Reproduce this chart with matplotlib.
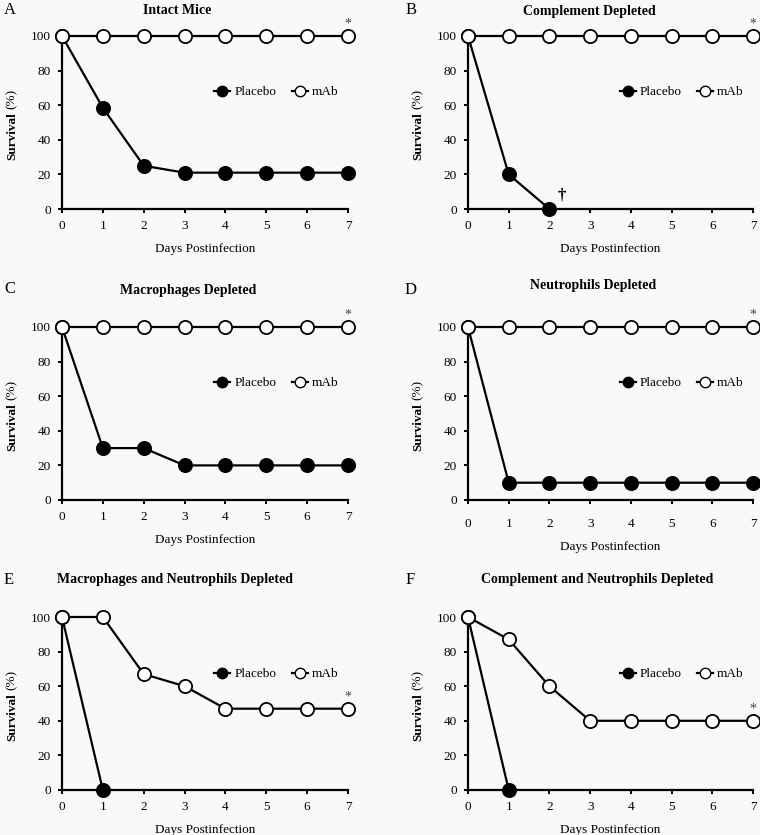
import matplotlib
matplotlib.use("Agg")
import matplotlib.pyplot as plt
from matplotlib.lines import Line2D

plt.rcParams['font.family'] = ['Liberation Serif', 'DejaVu Serif']

days = [0, 1, 2, 3, 4, 5, 6, 7]
panel_letters = ["A", "B", "C", "D", "E", "F"]
titles = ["Intact Mice", "Complement Depleted", "Macrophages Depleted",
          "Neutrophils Depleted", "Macrophages and Neutrophils Depleted",
          "Complement and Neutrophils Depleted"]

placebo_A = [100, 58.5, 25, 21, 21, 21, 21, 21]
mab_A = [100, 100, 100, 100, 100, 100, 100, 100]
placebo_B = [100, 20, 0]
mab_B = [100, 100, 100, 100, 100, 100, 100, 100]
placebo_C = [100, 30, 30, 20, 20, 20, 20, 20]
mab_C = [100, 100, 100, 100, 100, 100, 100, 100]
placebo_D = [100, 10, 10, 10, 10, 10, 10, 10]
mab_D = [100, 100, 100, 100, 100, 100, 100, 100]
placebo_E = [100, 0]
mab_E = [100, 100, 67, 60, 47, 47, 47, 47]
placebo_F = [100, 0]
mab_F = [100, 87, 60, 40, 40, 40, 40, 40]

placebos = [placebo_A, placebo_B, placebo_C, placebo_D, placebo_E, placebo_F]
mabs = [mab_A, mab_B, mab_C, mab_D, mab_E, mab_F]

W, H = 760, 835
fig = plt.figure(figsize=(W / 100, H / 100), dpi=100)
bg = '#f9f9f9'
fig.patch.set_facecolor(bg)

# axes pixel boxes: (left, right, top, bottom)
boxes = [(62, 348, 36, 209), (468, 753, 36, 209),
         (62, 348, 327, 500), (468, 753, 327, 500),
         (62, 348, 617, 790), (468, 753, 617, 790)]
title_pos = [(177, 11), (589, 11), (188, 290), (593, 286), (175, 580), (597, 580)]
letter_pos = [(4, 10), (406, 10), (4, 289), (405, 290), (4, 580), (406, 580)]
legend_y = [0.676, 0.676, 0.676, 0.676, 0.67, 0.67]
xpads = [5, 5, 5, 10, 5, 5]
xlabelpads = [8, 8, 8, 8, 8, 8]

fs = 9.5
for i in range(6):
    l, r, t, b = boxes[i]
    ax = fig.add_axes([l / W, 1 - b / H, (r - l) / W, (b - t) / H])
    ax.set_facecolor(bg)
    p = placebos[i]
    m = mabs[i]
    ax.plot(days[:len(p)], p, '-o', color='black', lw=1.6, ms=9.5,
            mfc='black', mec='black', mew=1.3, clip_on=False, zorder=3)
    ax.plot(days[:len(m)], m, '-o', color='black', lw=1.6, ms=9.5,
            mfc='white', mec='black', mew=1.3, clip_on=False, zorder=4)
    ax.set_xlim(0, 7)
    ax.set_ylim(0, 100)
    ax.set_xticks(days)
    ax.set_yticks([0, 20, 40, 60, 80, 100])
    for s in ['top', 'right']:
        ax.spines[s].set_visible(False)
    for s in ['left', 'bottom']:
        ax.spines[s].set_linewidth(1.6)
    ax.tick_params(axis='both', direction='out', length=3, width=1.4,
                   labelsize=fs, pad=5)
    ax.tick_params(axis='x', pad=xpads[i])
    ax.set_xlabel("Days Postinfection", fontsize=fs, labelpad=xlabelpads[i])

    # y label: bold "Survival" + regular "(%)"
    ylx_frac = -50 / (r - l)
    t1 = ax.text(ylx_frac, 0.283, "Survival", transform=ax.transAxes,
                 rotation=90, ha='center', va='bottom', fontsize=fs,
                 fontweight='bold')
    ax.annotate("(%)", xy=(0.5, 1.0), xycoords=t1, xytext=(0, 2.5),
                textcoords='offset points', rotation=90, ha='center',
                va='bottom', fontsize=fs)

    ax.annotate("*", xy=(7, m[-1]), xytext=(0, 4), textcoords='offset points',
                ha='center', va='bottom', fontsize=10, color='#444444')
    if i == 1:
        ax.annotate("\u2020", xy=(2, 0), xytext=(9, 4), textcoords='offset points',
                    ha='center', va='bottom', fontsize=12, fontweight='bold')

    handles = [Line2D([], [], color='black', lw=1.6, marker='o', ms=7.5,
                      mfc='black', mec='black'),
               Line2D([], [], color='black', lw=1.6, marker='o', ms=7.5,
                      mfc='white', mec='black')]
    ax.legend(handles, ["Placebo", "mAb"], loc='center',
              bbox_to_anchor=(0.75, legend_y[i]), ncol=2, frameon=False,
              fontsize=fs, handlelength=1.2, handletextpad=0.3,
              columnspacing=1.2)

    tx, ty = title_pos[i]
    fig.text(tx / W, 1 - ty / H, titles[i], ha='center', va='center',
             fontsize=10, fontweight='bold')
    lx, ly = letter_pos[i]
    fig.text(lx / W, 1 - ly / H, panel_letters[i], ha='left', va='center',
             fontsize=12)

fig.savefig("out.png", dpi=100, facecolor=bg)
